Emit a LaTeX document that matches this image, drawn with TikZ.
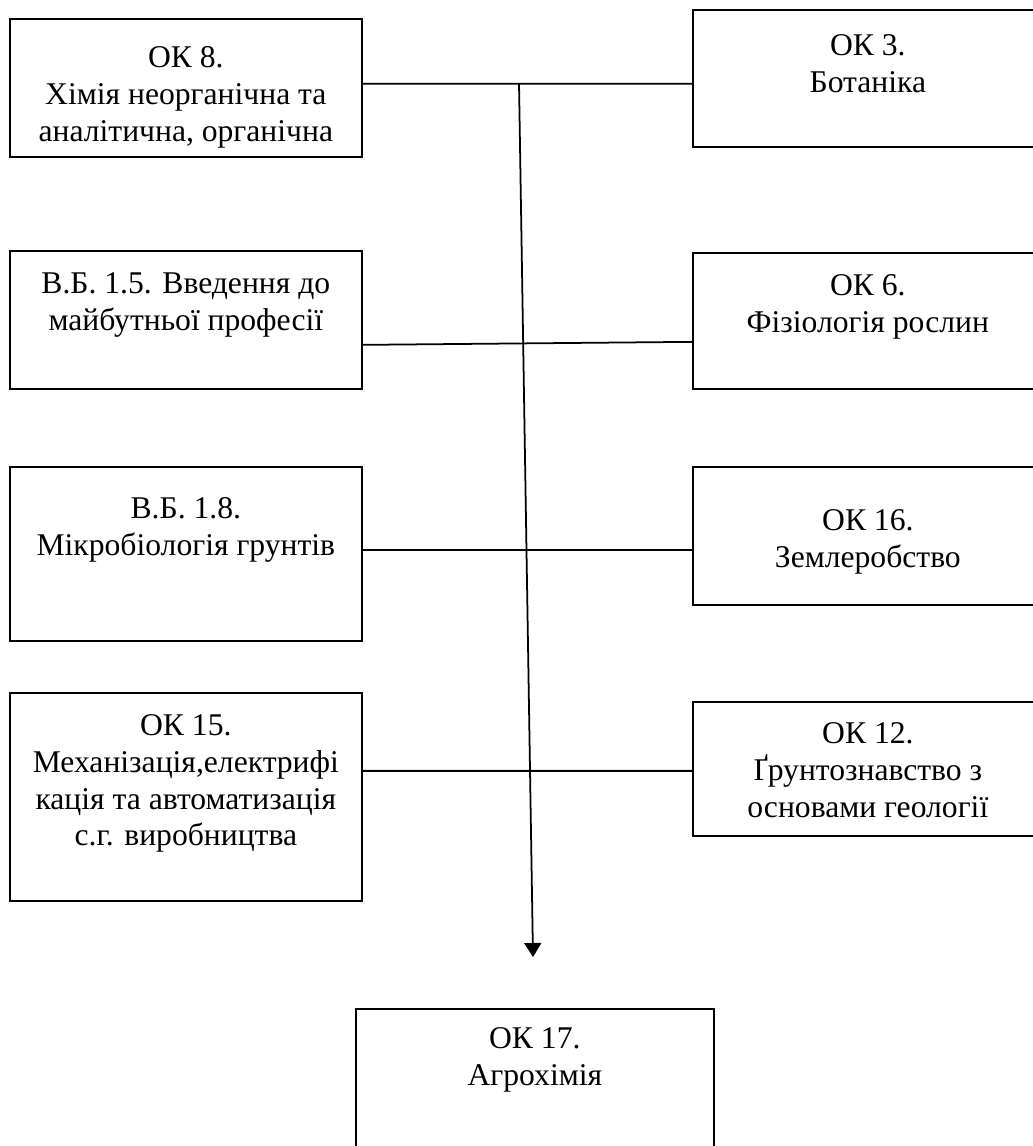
\documentclass[tikz,border=0pt]{standalone}
\usepackage{fontspec}
\setmainfont{Liberation Serif}
\usetikzlibrary{positioning,arrows.meta}

\begin{document}
\begin{tikzpicture}[x=0.02cm,y=-0.02cm,
    box/.style={draw,line width=1pt,minimum width=7.04cm,anchor=north west,inner sep=0pt},
    rbox/.style={box,minimum width=7cm},
    txt/.style={align=center,inner sep=0pt,font=\fontsize{18}{21}\selectfont},
    link/.style={line width=1pt}]
    \useasboundingbox (0,0) rectangle (1033,1146);
    \clip (0,0) rectangle (1033,1146);

    \node[box,minimum height=2.76cm]   (ok8)  at (9,18)    {};
    \node[box,minimum height=2.76cm]   (vb15) at (9,250)   {};
    \node[box,minimum height=3.48cm]   (vb18) at (9,466)   {};
    \node[box,minimum height=4.16cm]   (ok15) at (9,692)   {};
    \node[rbox,minimum height=2.74cm]  (ok3)  at (692,9)   {};
    \node[rbox,minimum height=2.72cm]  (ok6)  at (692,252) {};
    \node[rbox,minimum height=2.76cm]  (ok16) at (692,466) {};
    \node[rbox,minimum height=2.68cm]  (ok12) at (692,701) {};
    \node[box,minimum width=7.16cm,minimum height=2.9cm] (ok17) at (355,1008) {};

    \node[txt,below=0.56cm of ok8.north]  (ok8t)  {ОК 8.\\Хімія неорганічна та\\аналітична, органічна};
    \node[txt,below=0.44cm of vb15.north] (vb15t) {В.Б. 1.5. Введення до\\майбутньої професії};
    \node[txt,below=0.62cm of vb18.north] (vb18t) {В.Б. 1.8.\\Мікробіологія грунтів};
    \node[txt,below=0.44cm of ok15.north] (ok15t) {ОК 15.\\Механізація,електрифі\\кація та автоматизація\\с.г. виробництва};
    \node[txt,below=0.50cm of ok3.north]  (ok3t)  {ОК 3.\\Ботаніка};
    \node[txt,below=0.44cm of ok6.north]  (ok6t)  {ОК 6.\\Фізіологія рослин};
    \node[txt,below=0.86cm of ok16.north] (ok16t) {ОК 16.\\Землеробство};
    \node[txt,below=0.42cm of ok12.north] (ok12t) {ОК 12.\\Ґрунтознавство з\\основами геології};
    \node[txt,below=0.38cm of ok17.north] (ok17t) {ОК 17.\\Агрохімія};

    \draw[link] ([yshift=0.08cm]ok8.east)   -- ([yshift=-0.11cm]ok3.west);
    \draw[link] ([yshift=-0.5cm]vb15.east)  -- ([yshift=-0.42cm]ok6.west);
    \draw[link] ([yshift=0.08cm]vb18.east)  -- ([yshift=-0.28cm]ok16.west);
    \draw[link] ([yshift=0.52cm]ok15.east)  -- ([yshift=-0.04cm]ok12.west);

    \coordinate (fork) at (519,83);
    \coordinate (tip)  at (533,957);
    \draw[link,-{Triangle[length=0.28cm,width=0.34cm]}] (fork) -- (tip);
\end{tikzpicture}
\end{document}
